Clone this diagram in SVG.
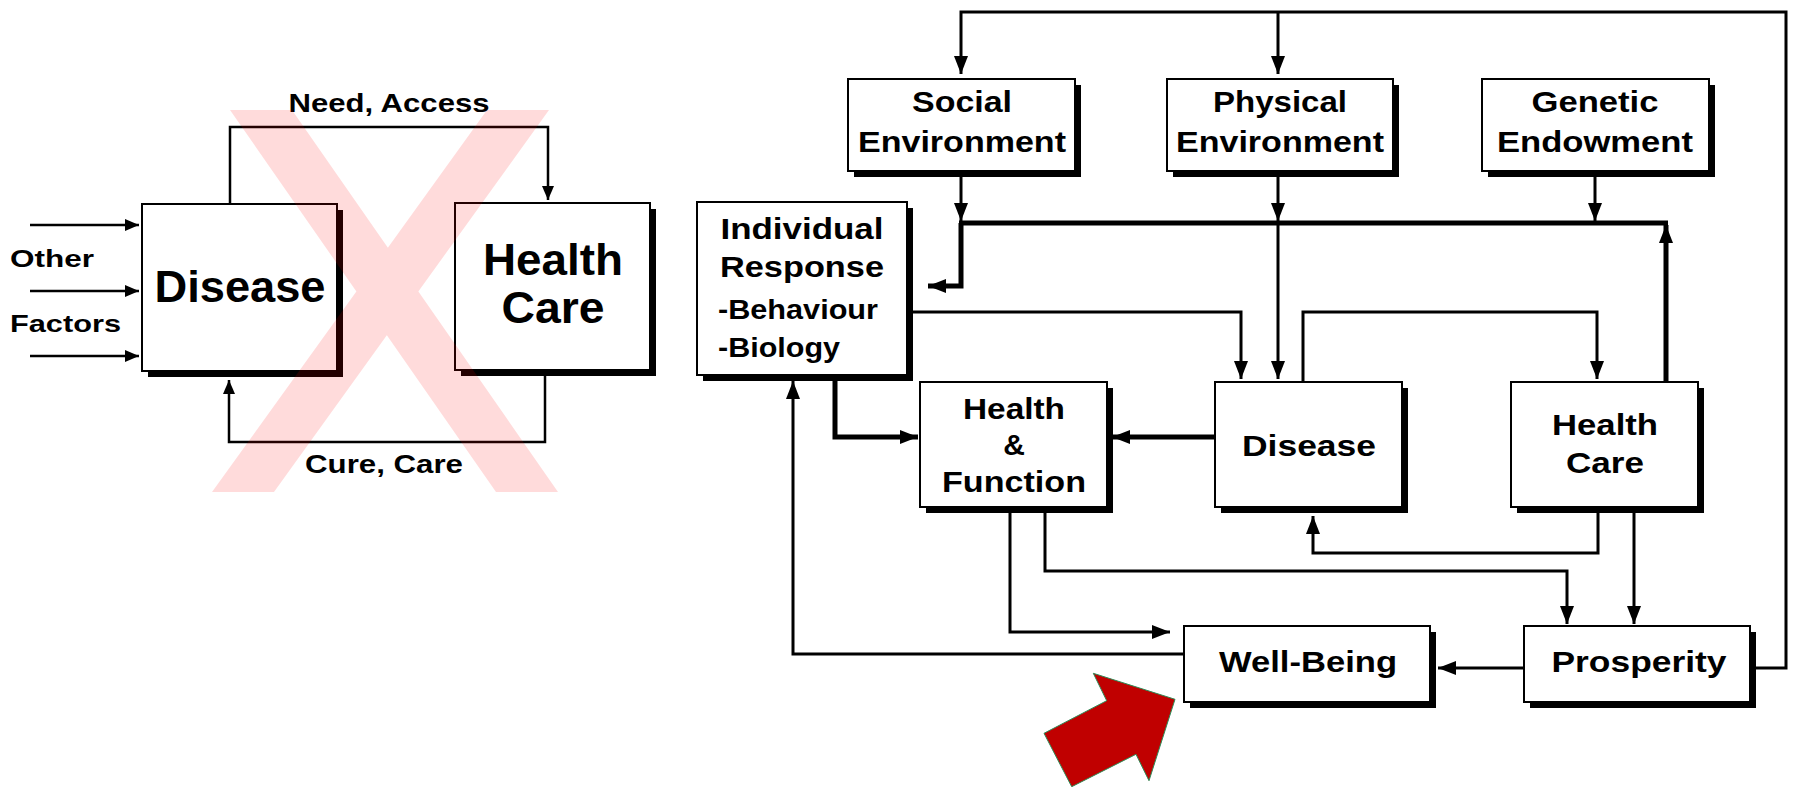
<svg xmlns="http://www.w3.org/2000/svg" width="1794" height="787" viewBox="0 0 1794 787">
<style>
.box{fill:#fff;stroke:#000;stroke-width:2}
.sh{fill:#000}
.t{font-family:"Liberation Sans",Arial,sans-serif;font-weight:bold;fill:#000;text-anchor:middle}
.ts{font-family:"Liberation Sans",Arial,sans-serif;font-weight:bold;fill:#000}
.c{fill:none;stroke:#000;stroke-width:2.5}
.c3{fill:none;stroke:#000;stroke-width:3}
.c5{fill:none;stroke:#000;stroke-width:5}
</style>
<defs>
<marker id="a" markerUnits="userSpaceOnUse" markerWidth="14" markerHeight="12" refX="14" refY="6" orient="auto"><path d="M0,0 L14,6 L0,12 z" fill="#000"/></marker>
<marker id="b" markerUnits="userSpaceOnUse" markerWidth="18" markerHeight="14" refX="18" refY="7" orient="auto"><path d="M0,0 L18,7 L0,14 z" fill="#000"/></marker>
</defs>
<rect width="1794" height="787" fill="#fff"/>

<!-- left diagram -->
<g id="left-disease"><rect class="sh" x="148" y="210" width="195" height="167"/><rect class="box" x="142" y="204" width="195" height="167"/><text class="t" x="240" y="302" font-size="44" textLength="171" lengthAdjust="spacingAndGlyphs">Disease</text></g>
<g id="left-healthcare"><rect class="sh" x="461" y="209" width="195" height="167"/><rect class="box" x="455" y="203" width="195" height="167"/><text class="t" x="553" y="275" font-size="44" textLength="140" lengthAdjust="spacingAndGlyphs">Health</text><text class="t" x="553" y="323" font-size="44" textLength="103" lengthAdjust="spacingAndGlyphs">Care</text></g>
<g id="left-labels">
<text class="ts" x="10" y="267" font-size="24" textLength="84" lengthAdjust="spacingAndGlyphs">Other</text>
<text class="ts" x="10" y="332" font-size="24" textLength="111" lengthAdjust="spacingAndGlyphs">Factors</text>
<text class="t" x="389" y="112" font-size="26" textLength="201" lengthAdjust="spacingAndGlyphs">Need, Access</text>
<text class="t" x="384" y="473" font-size="26" textLength="158" lengthAdjust="spacingAndGlyphs">Cure, Care</text>
</g>
<g id="left-connectors">
<path class="c" d="M230,204 V127 H548 V200" marker-end="url(#a)"/>
<path class="c" d="M545,376 V442 H229 V380" marker-end="url(#a)"/>
<path class="c" d="M30,225 H139" marker-end="url(#a)"/>
<path class="c" d="M30,291 H139" marker-end="url(#a)"/>
<path class="c" d="M30,356 H139" marker-end="url(#a)"/>
</g>
<path id="red-x" d="M230,110 H292 L558,492 H496 Z M487,110 H549 L274,492 H212 Z" fill="#ff0000" fill-opacity="0.14"/>

<!-- right diagram -->
<g id="right" transform="translate(-3,0)">
<g id="social"><rect class="sh" x="857" y="85" width="227" height="92"/><rect class="box" x="851" y="79" width="227" height="92"/><text class="t" x="965" y="112" font-size="30" textLength="100" lengthAdjust="spacingAndGlyphs">Social</text><text class="t" x="965" y="152" font-size="30" textLength="208" lengthAdjust="spacingAndGlyphs">Environment</text></g>
<g id="physical"><rect class="sh" x="1176" y="85" width="226" height="92"/><rect class="box" x="1170" y="79" width="226" height="92"/><text class="t" x="1283" y="112" font-size="30" textLength="134" lengthAdjust="spacingAndGlyphs">Physical</text><text class="t" x="1283" y="152" font-size="30" textLength="208" lengthAdjust="spacingAndGlyphs">Environment</text></g>
<g id="genetic"><rect class="sh" x="1491" y="85" width="227" height="92"/><rect class="box" x="1485" y="79" width="227" height="92"/><text class="t" x="1598" y="112" font-size="30" textLength="127" lengthAdjust="spacingAndGlyphs">Genetic</text><text class="t" x="1598" y="152" font-size="30" textLength="196" lengthAdjust="spacingAndGlyphs">Endowment</text></g>
<g id="individual"><rect class="sh" x="706" y="208" width="210" height="173"/><rect class="box" x="700" y="202" width="210" height="173"/><text class="t" x="805" y="239" font-size="30" textLength="163" lengthAdjust="spacingAndGlyphs">Individual</text><text class="t" x="805" y="277" font-size="30" textLength="164" lengthAdjust="spacingAndGlyphs">Response</text><text class="ts" x="721" y="319" font-size="27" textLength="160" lengthAdjust="spacingAndGlyphs">-Behaviour</text><text class="ts" x="721" y="357" font-size="27" textLength="122" lengthAdjust="spacingAndGlyphs">-Biology</text></g>
<g id="healthfunction"><rect class="sh" x="929" y="388" width="187" height="125"/><rect class="box" x="923" y="382" width="187" height="125"/><text class="t" x="1017" y="419" font-size="30" textLength="102" lengthAdjust="spacingAndGlyphs">Health</text><text class="t" x="1017" y="455" font-size="30">&amp;</text><text class="t" x="1017" y="492" font-size="30" textLength="144" lengthAdjust="spacingAndGlyphs">Function</text></g>
<g id="disease"><rect class="sh" x="1224" y="388" width="187" height="125"/><rect class="box" x="1218" y="382" width="187" height="125"/><text class="t" x="1312" y="456" font-size="30" textLength="134" lengthAdjust="spacingAndGlyphs">Disease</text></g>
<g id="healthcare"><rect class="sh" x="1520" y="388" width="187" height="125"/><rect class="box" x="1514" y="382" width="187" height="125"/><text class="t" x="1608" y="435" font-size="30" textLength="106" lengthAdjust="spacingAndGlyphs">Health</text><text class="t" x="1608" y="473" font-size="30" textLength="78" lengthAdjust="spacingAndGlyphs">Care</text></g>
<g id="wellbeing"><rect class="sh" x="1193" y="632" width="246" height="76"/><rect class="box" x="1187" y="626" width="246" height="76"/><text class="t" x="1311" y="672" font-size="30" textLength="178" lengthAdjust="spacingAndGlyphs">Well-Being</text></g>
<g id="prosperity"><rect class="sh" x="1533" y="632" width="226" height="76"/><rect class="box" x="1527" y="626" width="226" height="76"/><text class="t" x="1642" y="672" font-size="30" textLength="175" lengthAdjust="spacingAndGlyphs">Prosperity</text></g>

<g id="connectors">
<path class="c3" d="M1759,668 H1789 V12 H964 V74" marker-end="url(#b)"/>
<path class="c3" d="M1281,12 V74" marker-end="url(#b)"/>
<path class="c3" d="M964,177 V221" marker-end="url(#b)"/>
<path class="c3" d="M1281,177 V221" marker-end="url(#b)"/>
<path class="c3" d="M1598,177 V221" marker-end="url(#b)"/>
<path class="c5" d="M962,223 H1671"/>
<path class="c5" d="M964,223 V286 H931" marker-end="url(#b)"/>
<path class="c3" d="M1281,223 V379" marker-end="url(#b)"/>
<path class="c5" d="M1669,382 V225" marker-end="url(#b)"/>
<path class="c3" d="M916,312 H1244 V379" marker-end="url(#b)"/>
<path class="c3" d="M1306,382 V312 H1600 V379" marker-end="url(#b)"/>
<path class="c5" d="M838,381 V437 H921" marker-end="url(#b)"/>
<path class="c5" d="M1218,437 H1115" marker-end="url(#b)"/>
<path class="c3" d="M1187,654 H796 V381" marker-end="url(#b)"/>
<path class="c3" d="M1601,513 V553 H1316 V516" marker-end="url(#b)"/>
<path class="c3" d="M1637,513 V624" marker-end="url(#b)"/>
<path class="c3" d="M1048,513 V571 H1570 V624" marker-end="url(#b)"/>
<path class="c3" d="M1013,513 V632 H1173" marker-end="url(#b)"/>
<path class="c3" d="M1527,668 H1441" marker-end="url(#b)"/>
</g>
</g>

<polygon id="red-arrow" points="1093.3,673.3 1175,699.3 1149,780.7 1136,754.3 1071.7,786.7 1044,733.3 1106.7,700.7" fill="#c00000" stroke="#2e8b57" stroke-width="1"/>
</svg>
